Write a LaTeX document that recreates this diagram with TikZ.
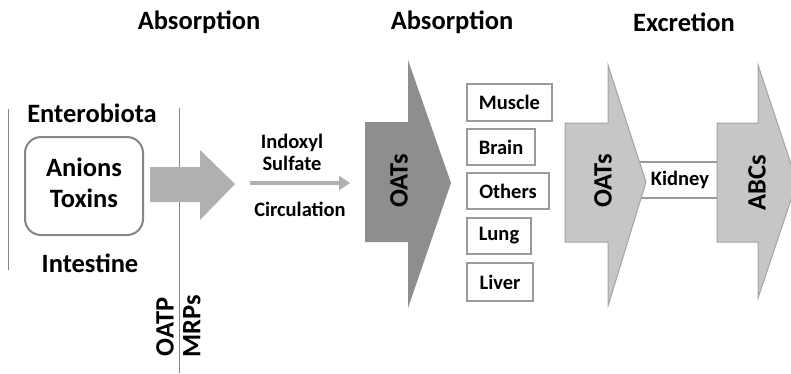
\documentclass[tikz,border=0pt]{standalone}
\usepackage{fontspec}
\setmainfont{Carlito}
\usetikzlibrary{arrows.meta}
\definecolor{arrowA}{HTML}{B0B0B0}
\definecolor{arrowB}{HTML}{8E8E8E}
\definecolor{arrowC}{HTML}{C6C6C6}
\definecolor{arrowCline}{HTML}{A4A4A4}
\definecolor{lineg}{HTML}{858585}
\definecolor{boxg}{HTML}{9A9A9A}
\tikzset{
  bigtxt/.style={font=\fontsize{26.5}{29}\selectfont\bfseries, inner sep=0pt},
  smalltxt/.style={font=\fontsize{20.5}{22}\selectfont\bfseries, inner sep=0pt},
  organ/.style={draw=boxg, line width=2pt, fill=white, font=\fontsize{20.5}{22}\selectfont\bfseries, anchor=north west, inner sep=0pt},
  vline/.style={draw=lineg, line width=1pt},
}
\begin{document}
\begin{tikzpicture}[x=1pt,y=-1pt]
\useasboundingbox (0,0) rectangle (791,373);
\clip (0,0) rectangle (791,373);
% titles
\node[bigtxt] (t1) at (199,22) {Absorption};
\node[bigtxt] (t2) at (452,22) {Absorption};
\node[bigtxt] (t3) at (684,22) {Excretion};
% vertical lines
\draw[vline] (8,109) -- (8,270);
\draw[vline] (179,108) -- (179,373);
% left
\node[bigtxt] (ent) at (92,113) {Enterobiota};
\draw[draw=lineg, line width=2pt, rounded corners=16pt] (25,137) rectangle (143,235);
\node[bigtxt, align=center] (tox) at (84,183) {Anions\\[2pt]Toxins};
\node[bigtxt] (int) at (90,263) {Intestine};
% big arrow 1
\fill[arrowA] (150,167) -- (200,167) -- (200,150) -- (235,184) -- (200,220) -- (200,202) -- (150,202) -- cycle;
\node[bigtxt, rotate=90] (oatp) at (165,327) {OATP};
\node[bigtxt, rotate=90] (mrps) at (192,326) {MRPs};
% indoxyl
\node[smalltxt, align=center] (ind) at (292,152) {Indoxyl\\Sulfate};
\node[smalltxt] (circ) at (300,209) {Circulation};
\coordinate (ca) at (250,183);
\coordinate (cb) at (350,183);
\draw[arrowA, line width=4pt, -{Triangle[length=11pt,width=14pt]}] (ca) -- (cb);
% OATs arrow 1
\fill[arrowB] (365,122) -- (408,122) -- (408,60) -- (451,183) -- (408,308) -- (408,242) -- (365,242) -- cycle;
\node[bigtxt, rotate=90] (oats1) at (399,181) {OATs};
% organs
\node[organ, minimum width=85pt, minimum height=37pt] (muscle) at (466,83) {Muscle};
\node[organ, minimum width=68pt, minimum height=36pt] (brain) at (466,128) {Brain};
\node[organ, minimum width=82pt, minimum height=36pt] (others) at (466,172) {Others};
\node[organ, minimum width=64pt, minimum height=36pt] (lung) at (466,217) {Lung};
\node[organ, minimum width=66pt, minimum height=38pt] (liver) at (466,262) {Liver};
% kidney box
\node[draw=boxg, line width=2pt, fill=white, minimum width=82pt, minimum height=36pt, inner sep=0pt] (kbox) at (679,180) {};
% OATs arrow 2
\filldraw[fill=arrowC, draw=arrowCline, line width=1pt] (565,123) -- (608,123) -- (608,65) -- (646,182) -- (608,306) -- (608,242) -- (565,242) -- cycle;
\node[bigtxt, rotate=90] (oats2) at (603,181) {OATs};
% ABCs arrow
\filldraw[fill=arrowC, draw=arrowCline, line width=1pt] (717,123) -- (758,123) -- (758,65) -- (797,182) -- (758,298) -- (758,242) -- (717,242) -- cycle;
\node[bigtxt, rotate=90] (abcs) at (757,183) {ABCs};
\node[smalltxt] (kid) at (680,180) {Kidney};
\end{tikzpicture}
\end{document}
